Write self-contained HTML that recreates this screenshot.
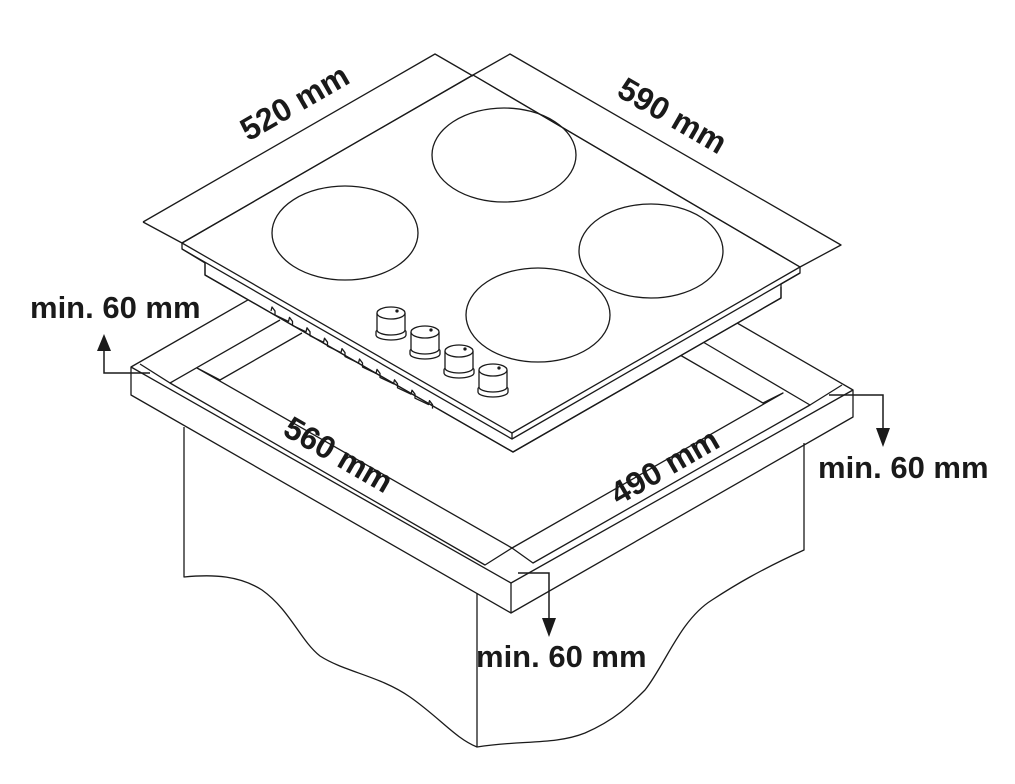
<!DOCTYPE html>
<html><head><meta charset="utf-8"><style>
html,body{margin:0;padding:0;background:#fff;}
svg{display:block;}
text{font-family:"Liberation Sans",Arial,sans-serif;font-weight:bold;fill:#1a1a1a;}
</style></head><body>
<svg width="1015" height="784" viewBox="0 0 1015 784" xmlns="http://www.w3.org/2000/svg">
<g fill="none" stroke="#1a1a1a" stroke-width="1.3" stroke-linejoin="round">
<!-- cabinet -->
<path d="M184,427 V577 C215,574 240,576 262,590 C290,610 300,640 320,656 C345,672 380,676 410,697 C440,718 455,738 477,747 C520,740 555,745 585,733 C615,720 630,705 645,690 C665,665 680,620 712,600 C735,585 760,570 804,550 V443"/>
<line x1="477" y1="593" x2="477" y2="747"/>
<!-- countertop -->
<path d="M131,367 L260,293"/>
<path d="M725,316 L853,390"/>
<path d="M131,367 L511,583 L853,390 V417 L511,613 L131,395 Z"/>
<line x1="511" y1="583" x2="511" y2="613"/>
<path d="M280,320 L170,383 L485,565 L512,548 L533,563 L810,405 L703,342"/>
<path d="M302,333 L220,380 L197,368 L512,548 L783,393 L763,403 L680,355"/>
<line x1="140" y1="364" x2="170" y2="383"/>
<line x1="842" y1="385" x2="810" y2="405"/>
</g>
<!-- hob (white fill occludes countertop) -->
<g stroke="#1a1a1a" stroke-width="1.3" stroke-linejoin="round">
<path fill="#fff" d="M182,243 L473,75 L800,267 V273 L781,284 V298 L513,452 L205,275 V263 L182,249 Z"/>
<path fill="none" d="M182,243 L473,75 L800,267 L512,433 Z"/>
<path fill="none" d="M182,249 L512,439 L800,273"/>
<line x1="512" y1="433" x2="512" y2="439"/>
<path fill="none" d="M205,263 V275 L513,452 L781,298 V287"/>
<path fill="none" d="M271,311 l1,-4 l3,4 l0,4 l13.5,6.4 l1,-4 l3,4 l0,4 l13.5,6.4 l1,-4 l3,4 l0,4 l13.5,6.4 l1,-4 l3,4 l0,4 l13.5,6.4 l1,-4 l3,4 l0,4 l13.5,6.4 l1,-4 l3,4 l0,4 l13.5,6.4 l1,-4 l3,4 l0,4 l13.5,6.4 l1,-4 l3,4 l0,4 l13.5,6.4 l1,-4 l3,4 l0,4 l13.5,6.4 l1,-4 l3,4 l0,4"/>
<path fill="none" d="M143,222 L435,54 L473,76"/>
<path fill="none" d="M143,222 L182,243"/>
<path fill="none" d="M473,75 L510,54 L841,245 L800,267"/>
<g fill="none">
<ellipse cx="504" cy="155" rx="72" ry="47"/>
<ellipse cx="345" cy="233" rx="73" ry="47"/>
<ellipse cx="651" cy="251" rx="72" ry="47"/>
<ellipse cx="538" cy="315" rx="72" ry="47"/>
</g>
</g>
<!-- knobs -->
<g fill="#fff" stroke="#1a1a1a" stroke-width="1.3">
<g transform="translate(390,313)"><path d="M-14,22 a15,5 0 0 0 30,0 v-3 a15,5 0 0 0 -30,0 z"/><path d="M-13,0 V17 a14,5 0 0 0 28,0 V0"/><ellipse cx="1" cy="0" rx="14" ry="6"/><circle cx="7" cy="-2" r="1" fill="#1a1a1a"/></g>
<g transform="translate(424,332)"><path d="M-14,22 a15,5 0 0 0 30,0 v-3 a15,5 0 0 0 -30,0 z"/><path d="M-13,0 V17 a14,5 0 0 0 28,0 V0"/><ellipse cx="1" cy="0" rx="14" ry="6"/><circle cx="7" cy="-2" r="1" fill="#1a1a1a"/></g>
<g transform="translate(458,351)"><path d="M-14,22 a15,5 0 0 0 30,0 v-3 a15,5 0 0 0 -30,0 z"/><path d="M-13,0 V17 a14,5 0 0 0 28,0 V0"/><ellipse cx="1" cy="0" rx="14" ry="6"/><circle cx="7" cy="-2" r="1" fill="#1a1a1a"/></g>
<g transform="translate(492,370)"><path d="M-14,22 a15,5 0 0 0 30,0 v-3 a15,5 0 0 0 -30,0 z"/><path d="M-13,0 V17 a14,5 0 0 0 28,0 V0"/><ellipse cx="1" cy="0" rx="14" ry="6"/><circle cx="7" cy="-2" r="1" fill="#1a1a1a"/></g>
</g>
<!-- arrows -->
<g fill="none" stroke="#1a1a1a" stroke-width="1.5">
<path d="M150,373 H104 V348"/>
<path d="M829,395 H883 V430"/>
<path d="M518,573 H549 V620"/>
</g>
<g fill="#1a1a1a">
<polygon points="104,334 97,351 111,351"/>
<polygon points="883,447 876,428 890,428"/>
<polygon points="549,637 542,618 556,618"/>
</g>
<!-- labels -->
<text x="30" y="318" font-size="31">min. 60 mm</text>
<text x="818" y="478" font-size="31">min. 60 mm</text>
<text x="476" y="667" font-size="31">min. 60 mm</text>
<text transform="translate(300,112) rotate(-30)" text-anchor="middle" font-size="32">520 mm</text>
<text transform="translate(667,125) rotate(30)" text-anchor="middle" font-size="32">590 mm</text>
<text transform="translate(333,464) rotate(30)" text-anchor="middle" font-size="32">560 mm</text>
<text transform="translate(670,476) rotate(-30)" text-anchor="middle" font-size="32">490 mm</text>
</svg>
</body></html>
